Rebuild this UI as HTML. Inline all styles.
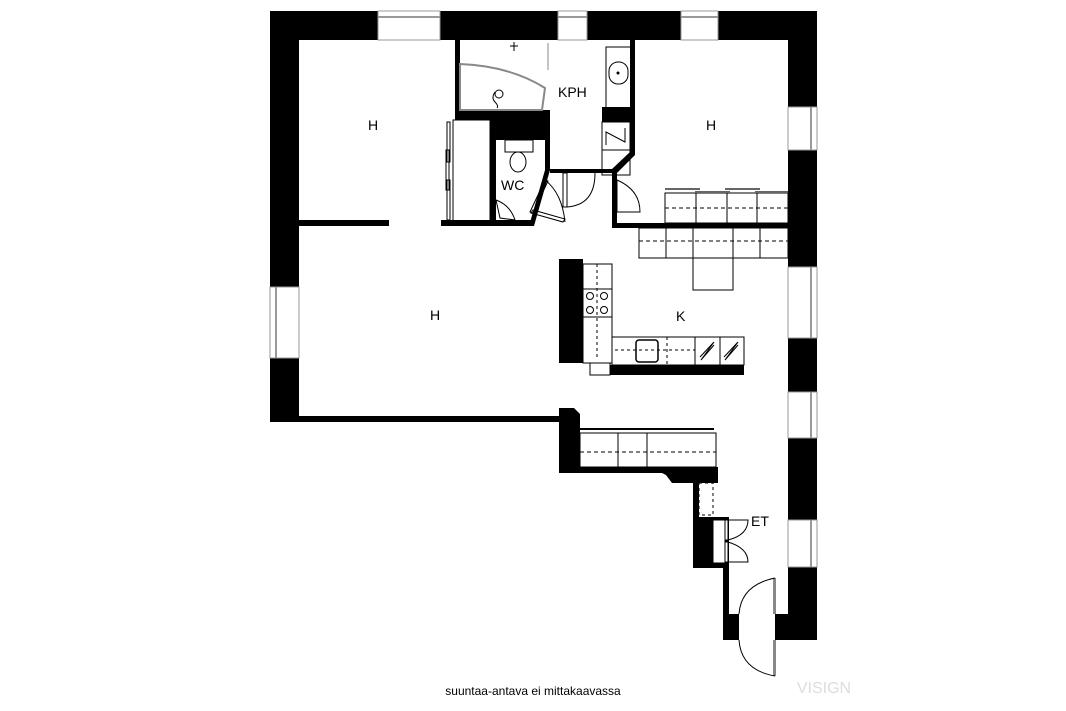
<!DOCTYPE html>
<html><head><meta charset="utf-8"><style>
html,body{margin:0;padding:0;background:#fff;}
svg{display:block;}
text{font-family:"Liberation Sans",sans-serif;}
</style></head><body>
<svg width="1066" height="711" viewBox="0 0 1066 711" xmlns="http://www.w3.org/2000/svg">
<rect width="1066" height="711" fill="#fff"/>
<g fill="#000">
<rect x="270" y="11" width="547" height="29"/>
<rect x="270" y="11" width="29" height="411"/>
<rect x="788" y="11" width="29" height="629"/>
<rect x="298" y="416" width="262" height="6"/>
<polygon points="559,408 574,408 580,414 580,467 716,467 716,478 672,478 662,473 559,473"/>
<polygon points="660,467 718,467 718,483 699,483 699,517 729,517 729,640 723,640 723,568 693,568 693,483 672,483"/>
<rect x="723" y="614" width="16" height="26"/>
<rect x="775" y="614" width="42" height="26"/>
<rect x="455" y="40" width="5" height="80"/>
<rect x="455" y="110" width="95" height="10"/>
<rect x="490" y="110" width="60" height="30"/>
<rect x="490" y="120" width="6" height="106"/>
<polygon points="545,110 550,110 550,170 534,226 529,226 545,170"/>
<rect x="441" y="220" width="92" height="6"/>
<rect x="299" y="220" width="90" height="6"/>
<rect x="550" y="169" width="67" height="4"/>
<polygon points="630,40 635,40 635,155 617,173 612,173 612,169 630,152"/>
<rect x="602" y="107" width="28" height="15"/>
<rect x="612" y="169" width="5" height="58"/>
<rect x="612" y="223" width="176" height="5"/>
<rect x="559" y="259" width="24" height="104"/>
<rect x="610" y="365" width="134" height="10"/>
</g>
<g fill="#fff" stroke="#999" stroke-width="1">
<rect x="378" y="11" width="62" height="29"/>
<rect x="558" y="11" width="29" height="29"/>
<rect x="681" y="11" width="37" height="29"/>
<rect x="788" y="107" width="29" height="43"/>
<rect x="788" y="267" width="29" height="71"/>
<rect x="788" y="392" width="29" height="46"/>
<rect x="788" y="520" width="29" height="47"/>
<rect x="270" y="287" width="29" height="71"/>
</g>
<g stroke="#999" stroke-width="2">
<line x1="378" y1="17" x2="440" y2="17"/><line x1="558" y1="17" x2="587" y2="17"/><line x1="681" y1="17" x2="718" y2="17"/>
<line x1="811" y1="107" x2="811" y2="150"/><line x1="811" y1="267" x2="811" y2="338"/><line x1="811" y1="392" x2="811" y2="438"/><line x1="811" y1="520" x2="811" y2="567"/>
<line x1="276" y1="287" x2="276" y2="358"/>
</g>
<g fill="none" stroke="#000" stroke-width="1">
<path d="M460,64 Q510,66 545,88 L542,110 L460,110 Z" stroke="#888" stroke-width="2"/>
<line x1="548" y1="43" x2="548" y2="70" stroke="#888"/>
<line x1="510" y1="46" x2="518" y2="46"/><line x1="514" y1="42" x2="514" y2="51"/>
<circle cx="499" cy="94" r="4"/><path d="M495,92 q-4,6 0,10 q4,4 2,6"/>
<rect x="606" y="47" width="25" height="62"/>
<rect x="609" y="62" width="19" height="22" rx="9"/>
<circle cx="618" cy="73" r="1" fill="#000"/>
<rect x="602" y="122" width="28" height="28" fill="#fff"/>
<rect x="602" y="150" width="28" height="25"/>
<polyline points="606,145 606,132 625,142 625,128"/>
<rect x="453" y="120" width="37" height="102"/>
<rect x="447" y="122" width="3" height="40"/><rect x="446" y="150" width="3" height="40"/><rect x="447" y="180" width="3" height="40"/>
<rect x="505" y="140" width="28" height="12"/>
<ellipse cx="518" cy="162" rx="8" ry="10"/>
<path d="M496,200 L500,218 L515,220 Q510,205 496,200 Z"/>
<path d="M545,180 L530,212 L533,213 L548,181 Z"/>
<path d="M531,213 L563,222 L565,219 L533,210 Z"/>
<path d="M545,180 Q562,193 565,222"/>
<rect x="563" y="173" width="4" height="34"/>
<path d="M567,207 Q595,205 595,173"/>
<rect x="613" y="180" width="4" height="32"/>
<path d="M617,212 L640,212 Q640,190 617,180"/>
<rect x="665" y="193" width="123" height="30"/>
<line x1="696" y1="193" x2="696" y2="223"/><line x1="727" y1="193" x2="727" y2="223"/><line x1="757" y1="193" x2="757" y2="223"/>
<line x1="665" y1="208" x2="788" y2="208" stroke-dasharray="4,3"/>
<g stroke="#666" stroke-width="2"><line x1="665" y1="189" x2="700" y2="189"/><line x1="695" y1="192" x2="730" y2="192"/><line x1="725" y1="189" x2="760" y2="189"/><line x1="755" y1="192" x2="788" y2="192"/></g>
<rect x="639" y="228" width="149" height="30"/>
<line x1="666" y1="228" x2="666" y2="258"/><line x1="733" y1="228" x2="733" y2="258"/><line x1="760" y1="228" x2="760" y2="258"/>
<rect x="693" y="228" width="40" height="62"/>
<line x1="639" y1="241" x2="788" y2="241" stroke-dasharray="4,3"/>
<rect x="583" y="264" width="29" height="99"/>
<line x1="583" y1="289" x2="612" y2="289"/><line x1="583" y1="317" x2="612" y2="317"/>
<line x1="597" y1="264" x2="597" y2="358" stroke-dasharray="3,3"/>
<circle cx="590" cy="296" r="3.5"/><circle cx="604" cy="296" r="3.5"/><circle cx="590" cy="310" r="3.5"/><circle cx="604" cy="310" r="3.5"/>
<rect x="612" y="337" width="132" height="28"/>
<line x1="695" y1="337" x2="695" y2="365"/><line x1="720" y1="337" x2="720" y2="365"/>
<line x1="615" y1="350" x2="695" y2="350" stroke-dasharray="3,3"/>
<line x1="667" y1="337" x2="667" y2="365" stroke-dasharray="3,3"/>
<rect x="636" y="340" width="22" height="22" rx="3" stroke-width="1.5"/>
<polyline points="700,362 715,342 700,356 715,356 700,340" stroke="none"/>
<polyline points="700,357 714,342 701,360 714,345"/>
<polyline points="724,357 738,342 725,360 738,345"/>
<rect x="590" y="363" width="20" height="12"/>
<rect x="580" y="433" width="136" height="34"/>
<line x1="618" y1="433" x2="618" y2="467"/><line x1="647" y1="433" x2="647" y2="467"/>
<line x1="580" y1="452" x2="716" y2="452" stroke-dasharray="4,3"/>
<line x1="580" y1="429" x2="714" y2="429" stroke-width="2"/>
<rect x="699" y="483" width="14" height="32" stroke-dasharray="3,3"/>
<rect x="713" y="520" width="12" height="43" fill="#fff"/>
<rect x="725" y="520" width="3" height="20" fill="#fff"/><rect x="725" y="542" width="3" height="20" fill="#fff"/>
<path d="M728,520 L748,520 Q748,535 728,540"/>
<path d="M728,542 Q748,548 748,562 L728,562"/>
<rect x="773" y="578" width="3" height="36" fill="#888" stroke="none"/>
<path d="M775,578 Q741,585 739,614"/>
<rect x="773" y="640" width="3" height="36" fill="#888" stroke="none"/>
<path d="M775,676 Q741,670 739,640"/>
</g>
<g font-size="14" fill="#000">
<text x="368" y="130">H</text>
<text x="706" y="130">H</text>
<text x="558" y="97">KPH</text>
<text x="501" y="190">WC</text>
<text x="430" y="320">H</text>
<text x="676" y="321">K</text>
<text x="751" y="526">ET</text>
</g>
<text x="533" y="695" font-size="12" text-anchor="middle">suuntaa-antava ei mittakaavassa</text>
<text x="824" y="693" font-size="16" text-anchor="middle" fill="#ddd" font-family="Liberation Serif,serif">VISIGN</text>
</svg>
</body></html>
